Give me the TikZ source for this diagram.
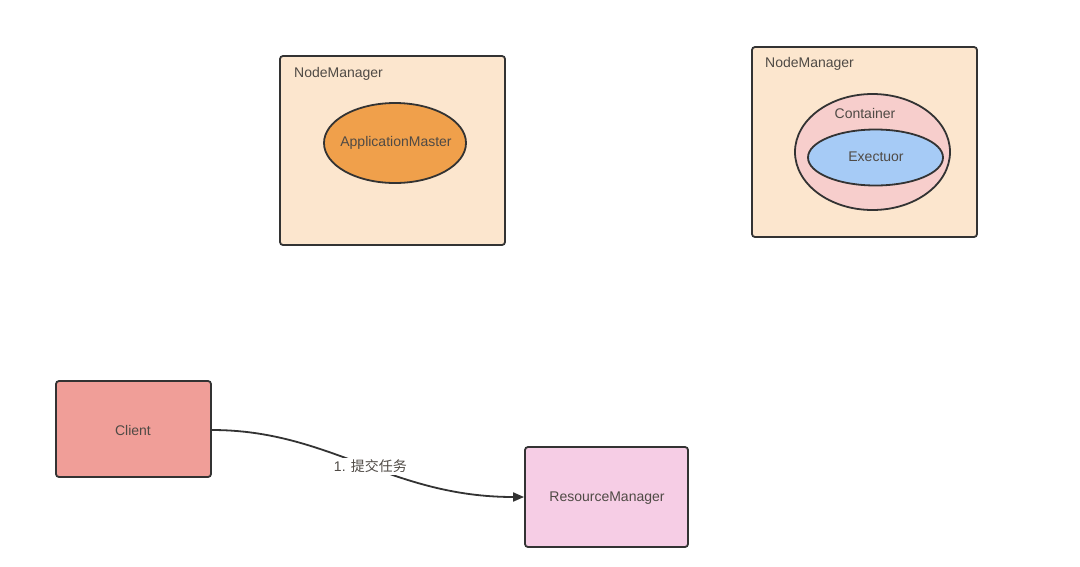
\documentclass[tikz,border=0pt]{standalone}
\usepackage{fontspec}
\setmainfont{Liberation Sans}
\newfontfamily\cjk{Noto Sans CJK SC}
\usetikzlibrary{arrows.meta,shapes.geometric}
\definecolor{nmfill}{HTML}{FCE6CE}
\definecolor{amfill}{HTML}{F0A04B}
\definecolor{ctfill}{HTML}{F7CECC}
\definecolor{exfill}{HTML}{A6CBF6}
\definecolor{clfill}{HTML}{F09E98}
\definecolor{rmfill}{HTML}{F6CDE5}
\definecolor{edge}{HTML}{333333}
\definecolor{txt}{HTML}{4F4A45}
\tikzset{
  box/.style={draw=edge, line width=1.8pt, rounded corners=3pt, inner sep=0pt},
  ell/.style={draw=edge, line width=1.8pt, ellipse, inner sep=0pt},
  lbl/.style={text=txt, font=\fontsize{14}{16}\selectfont, inner sep=0pt},
}
\begin{document}
\begin{tikzpicture}[x=1pt,y=-1pt]
\useasboundingbox (0,0) rectangle (1080,566);
% NodeManager 1
\node[box, fill=nmfill, minimum width=225pt, minimum height=189pt] (nm1) at (392.5,150.5) {};
\node[lbl, anchor=west] (nm1t) at (294,74) {NodeManager};
\node[ell, fill=amfill, minimum width=142pt, minimum height=80pt] (am) at (395,143) {};
\node[lbl] (amt) at (396,143) {ApplicationMaster};
% NodeManager 2
\node[box, fill=nmfill, minimum width=225pt, minimum height=190pt] (nm2) at (864.5,142) {};
\node[lbl, anchor=west] (nm2t) at (765,64) {NodeManager};
\node[ell, fill=ctfill, minimum width=155pt, minimum height=116pt] (ct) at (872.5,152) {};
\node[lbl] (ctt) at (865,113) {Container};
\node[ell, fill=exfill, minimum width=135pt, minimum height=56pt] (ex) at (875.5,157.5) {};
\node[lbl] (ext) at (876,157) {Exectuor};
% Client and ResourceManager
\node[box, fill=clfill, minimum width=155pt, minimum height=96pt] (cl) at (133.5,429) {};
\node[lbl] (clt) at (133,430) {Client};
\node[box, fill=rmfill, minimum width=163pt, minimum height=100pt] (rm) at (606.5,497) {};
\node[lbl] (rmt) at (607,498) {ResourceManager};
% connector
\draw[edge, line width=1.8pt, -{Triangle[length=11pt,width=9pt]}]
  (cl.east) ++(0,1) coordinate (s) (s) .. controls (330,430) and (390,497) .. (rm.west)
  node[pos=0.53, fill=white, lbl, inner sep=2pt] (lab) {1. {\cjk 提交任务}};
\end{tikzpicture}
\end{document}
